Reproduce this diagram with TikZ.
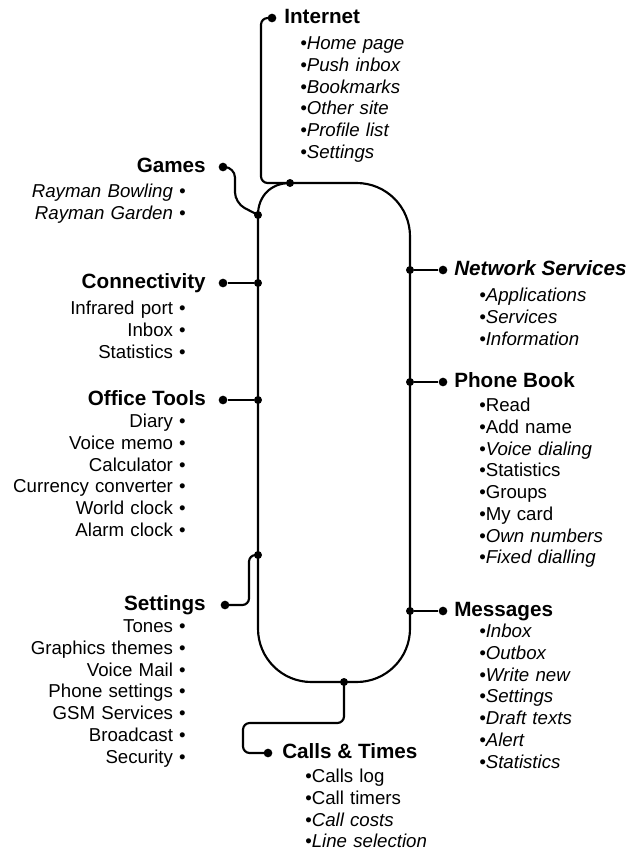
\documentclass[tikz,border=0pt]{standalone}
\usepackage{fontspec}
\setmainfont{Liberation Sans}
\usepackage{tikz}

\begin{document}
\begin{tikzpicture}[
                    x=0.75pt, y=-0.75pt,
                    node distance=16.3pt,
                    txt/.style={inner sep=0pt, text height=10pt, text depth=3pt},
                    menuhead/.style={txt, text height=11pt, font=\fontsize{15.5}{18}\selectfont\bfseries},
                    leftitem/.style={txt, text width=135pt, align=right, font=\fontsize{14}{16}\selectfont},
                    rightitem/.style={txt, text width=120pt, align=left, font=\fontsize{14}{16}\selectfont},
                    enddot/.style={circle, fill, inner sep=0pt, minimum size=6.5pt},
                    joint/.style={circle, fill, inner sep=0pt, minimum size=6pt},
                    wire/.style={line width=1.6pt}
                ]
                    \useasboundingbox (0,0) rectangle (638,851);

                    % junctions on the loop
                    \node[joint] (jint) at (290,183) {};
                    \node[joint] (jgam) at (258,215) {};
                    \node[joint] (jcon) at (258,283) {};
                    \node[joint] (joff) at (258,400) {};
                    \node[joint] (jset) at (258,555) {};
                    \node[joint] (jnet) at (410,270) {};
                    \node[joint] (jpho) at (410,382) {};
                    \node[joint] (jmsg) at (410,611) {};
                    \node[joint] (jcal) at (344,682) {};

                    % the loop
                    \draw[wire, rounded corners=40] (jint.center) -- (410,183) -- (410,682) -- (258,682) -- (jgam.center);
                    \draw[wire] (jgam.center) .. controls (258,196) and (271,183) .. (jint.center);

                    % Internet
                    \node[enddot] (idot) at (272,18) {};
                    \node[menuhead, anchor=west] (internet) at (284,18) {Internet};
                    \node[rightitem, anchor=west] (homepage) at (300,45) {\itshape\textbullet Home page};
                    \node[rightitem] (pushinbox) [below of=homepage] {\itshape\textbullet Push inbox};
                    \node[rightitem] (bookmarks) [below of=pushinbox] {\itshape\textbullet Bookmarks};
                    \node[rightitem] (othersite) [below of=bookmarks] {\itshape\textbullet Other site};
                    \node[rightitem] (profile) [below of=othersite] {\itshape\textbullet Profile list};
                    \node[rightitem] (isettings) [below of=profile] {\itshape\textbullet Settings};

                    % Games
                    \node[enddot] (gdot) at (223,167) {};
                    \node[menuhead, anchor=east] (games) at (206,167) {Games};
                    \node[leftitem, anchor=east] (bowling) at (186,193) {\itshape Rayman Bowling \textbullet};
                    \node[leftitem] (garden) [below of=bowling] {\itshape Rayman Garden \textbullet};

                    % Connectivity
                    \node[enddot] (cdot) at (223,283) {};
                    \node[menuhead, anchor=east] (connect) at (206,283) {Connectivity};
                    \node[leftitem, anchor=east] (infrared) at (186,310) {Infrared port \textbullet};
                    \node[leftitem] (cinbox) [below of=infrared] {Inbox \textbullet};
                    \node[leftitem] (cstats) [below of=cinbox] {Statistics \textbullet};

                    % Office Tools
                    \node[enddot] (odot) at (223,400) {};
                    \node[menuhead, anchor=east] (office) at (206,400) {Office Tools};
                    \node[leftitem, anchor=east] (diary) at (186,423) {Diary \textbullet};
                    \node[leftitem] (memo) [below of=diary] {Voice memo \textbullet};
                    \node[leftitem] (calc) [below of=memo] {Calculator \textbullet};
                    \node[leftitem] (currency) [below of=calc] {Currency converter \textbullet};
                    \node[leftitem] (world) [below of=currency] {World clock \textbullet};
                    \node[leftitem] (alarm) [below of=world] {Alarm clock \textbullet};

                    % Settings
                    \node[enddot] (sdot) at (225,605) {};
                    \node[menuhead, anchor=east] (settings) at (206,605) {Settings};
                    \node[leftitem, anchor=east] (tones) at (186,628) {Tones \textbullet};
                    \node[leftitem] (graphics) [below of=tones] {Graphics themes \textbullet};
                    \node[leftitem] (vmail) [below of=graphics] {Voice Mail \textbullet};
                    \node[leftitem] (phoneset) [below of=vmail] {Phone settings \textbullet};
                    \node[leftitem] (gsm) [below of=phoneset] {GSM Services \textbullet};
                    \node[leftitem] (broadcast) [below of=gsm] {Broadcast \textbullet};
                    \node[leftitem] (security) [below of=broadcast] {Security \textbullet};

                    % Network Services
                    \node[enddot] (ndot) at (443,270) {};
                    \node[menuhead, anchor=west] (netserv) at (454,270) {\itshape Network Services};
                    \node[rightitem, anchor=west] (apps) at (479,297) {\itshape\textbullet Applications};
                    \node[rightitem] (services) [below of=apps] {\itshape\textbullet Services};
                    \node[rightitem] (info) [below of=services] {\itshape\textbullet Information};

                    % Phone Book
                    \node[enddot] (pdot) at (443,382) {};
                    \node[menuhead, anchor=west] (phonebook) at (454,382) {Phone Book};
                    \node[rightitem, anchor=west] (read) at (479,407) {\textbullet Read};
                    \node[rightitem] (addname) [below of=read] {\textbullet Add name};
                    \node[rightitem] (vdial) [below of=addname] {\textbullet\itshape Voice dialing};
                    \node[rightitem] (pstats) [below of=vdial] {\textbullet Statistics};
                    \node[rightitem] (groups) [below of=pstats] {\textbullet Groups};
                    \node[rightitem] (mycard) [below of=groups] {\textbullet My card};
                    \node[rightitem] (ownnum) [below of=mycard] {\textbullet\itshape Own numbers};
                    \node[rightitem] (fixed) [below of=ownnum] {\textbullet\itshape Fixed dialling};

                    % Messages
                    \node[enddot] (mdot) at (443,611) {};
                    \node[menuhead, anchor=west] (messages) at (454,611) {Messages};
                    \node[rightitem, anchor=west] (minbox) at (479,633) {\itshape\textbullet Inbox};
                    \node[rightitem] (outbox) [below of=minbox] {\itshape\textbullet Outbox};
                    \node[rightitem] (writenew) [below of=outbox] {\itshape\textbullet Write new};
                    \node[rightitem] (msettings) [below of=writenew] {\itshape\textbullet Settings};
                    \node[rightitem] (draft) [below of=msettings] {\itshape\textbullet Draft texts};
                    \node[rightitem] (alert) [below of=draft] {\itshape\textbullet Alert};
                    \node[rightitem] (mstats) [below of=alert] {\itshape\textbullet Statistics};

                    % Calls & Times
                    \node[enddot] (kdot) at (268,753) {};
                    \node[menuhead, anchor=west] (calls) at (282,753) {Calls \& Times};
                    \node[rightitem, anchor=west] (callslog) at (305,778) {\textbullet Calls log};
                    \node[rightitem] (timers) [below of=callslog] {\textbullet Call timers};
                    \node[rightitem] (costs) [below of=timers] {\textbullet\itshape Call costs};
                    \node[rightitem] (linesel) [below of=costs] {\textbullet\itshape Line selection};

                    % Edges
                    \draw[wire, rounded corners=5] (idot.center) -- ++(-11,0) |- (jint.center);
                    \draw[wire, rounded corners=8] (gdot.center) -- ++(12,0) -- ++(0,36) -- (jgam.center);
                    \draw[wire] (cdot) -- (jcon);
                    \draw[wire] (odot) -- (joff);
                    \draw[wire, rounded corners=5] (sdot.center) -- ++(24,0) |- (jset.center);
                    \draw[wire] (jnet) -- (ndot);
                    \draw[wire] (jpho) -- (pdot);
                    \draw[wire] (jmsg) -- (mdot);
                    \draw[wire, rounded corners=5] (jcal.center) -- ++(0,41) -- ++(-101,0) |- (kdot.center);
                \end{tikzpicture}
\end{document}
